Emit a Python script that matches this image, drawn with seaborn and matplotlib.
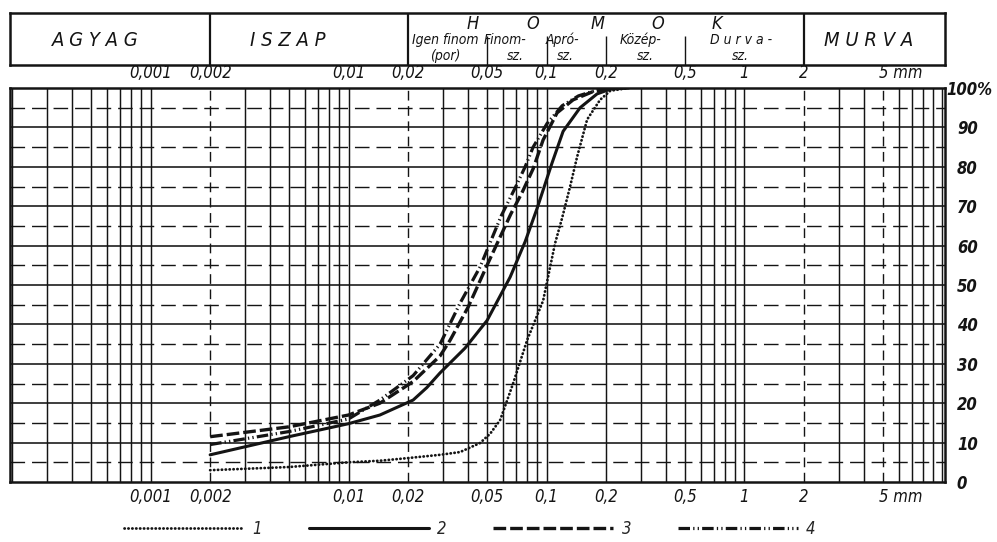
import matplotlib
matplotlib.use("Agg")
import matplotlib.pyplot as plt
import seaborn as sns
from matplotlib import font_manager as fm
from matplotlib.ticker import NullLocator
from matplotlib.transforms import ScaledTranslation

# ---------------- data ----------------
d1 = [0.002, 0.005, 0.01, 0.0144, 0.0193, 0.029, 0.0366, 0.0462, 0.052, 0.0583,
      0.0678, 0.0798, 0.0961, 0.1105, 0.1199, 0.1316, 0.1427, 0.1604, 0.1865, 0.21, 0.26]
p1 = [3.0, 3.8, 5.0, 5.4, 6.0, 6.9, 7.6, 9.9, 12.3, 15.7,
      25.0, 36.0, 46.0, 60.6, 67.0, 75.0, 82.5, 92.0, 97.0, 99.3, 100.0]

d2 = [0.002, 0.005, 0.01, 0.0144, 0.0212, 0.0249, 0.029, 0.0388, 0.0501, 0.0655, 0.078,
      0.0897, 0.1067, 0.1213, 0.1478, 0.18, 0.21, 0.26]
p2 = [6.9, 11.5, 14.8, 17.0, 20.8, 24.0, 27.7, 34.0, 41.0, 52.0, 61.0,
      69.5, 81.0, 89.0, 95.0, 98.5, 99.7, 100.0]

d3 = [0.002, 0.005, 0.01, 0.0144, 0.0212, 0.029, 0.0326, 0.0402, 0.0507, 0.066,
      0.0753, 0.0856, 0.0961, 0.1131, 0.1363, 0.17, 0.21]
p3 = [11.5, 14.0, 17.0, 20.0, 25.5, 32.0, 36.0, 44.4, 55.6, 68.0,
      73.5, 79.5, 86.8, 93.7, 97.0, 99.0, 100.0]

d4 = [0.002, 0.005, 0.01, 0.0144, 0.0212, 0.029, 0.0366, 0.0462, 0.059, 0.07,
      0.078, 0.0856, 0.1007, 0.12, 0.145, 0.18, 0.21]
p4 = [9.5, 12.8, 16.0, 20.8, 27.0, 35.0, 45.4, 54.6, 67.5, 75.0,
      80.0, 85.0, 91.0, 95.5, 98.0, 99.5, 100.0]

series_labels = ["1", "2", "3", "4"]

xticks = [0.001, 0.002, 0.01, 0.02, 0.05, 0.1, 0.2, 0.5, 1, 2, 5]
xticklabels = ["0,001", "0,002", "0,01", "0,02", "0,05", "0,1", "0,2", "0,5", "1", "2", "5 mm"]
yticks = [0, 10, 20, 30, 40, 50, 60, 70, 80, 90, 100]
yticklabels = ["0", "10", "20", "30", "40", "50", "60", "70", "80", "90", "100%"]

header_main = ["A G Y A G", "I S Z A P", "M U R V A"]
homok_letters = ["H", "O", "M", "O", "K"]
sand_sub1 = ["Igen finom", "Finom-", "Apró-", "Közép-", "D u r v a -"]
sand_sub2 = ["(por)", "sz.", "sz.", "sz.", "sz."]
full_dividers = [0.002, 0.02, 2]
part_dividers = [0.05, 0.1, 0.2, 0.5]

# ---------------- style ----------------
sns.set_style("white")
names = {f.name for f in fm.fontManager.ttflist}
COND = "Liberation Sans Narrow" if "Liberation Sans Narrow" in names else "DejaVu Sans"
plt.rcParams["font.family"] = [COND, "DejaVu Sans"]
plt.rcParams["font.stretch"] = "condensed"
INK = "#141414"

XLIM = (0.000195, 10.3)
W, H = 997, 542
fig = plt.figure(figsize=(W / 100, H / 100), dpi=100)
fig.patch.set_facecolor("white")

ax = fig.add_axes([10 / W, 60 / H, 935 / W, 394 / H])
ax.set_xscale("log")
ax.set_xlim(*XLIM)
ax.set_ylim(0, 100)

# grid
dashed_v = {0.002, 0.02, 2, 5}
for k in range(-4, 2):
    for n in range(1, 10):
        v = round(n * 10 ** k, 6)
        if XLIM[0] < v < XLIM[1]:
            if v in dashed_v:
                ax.axvline(v, color=INK, lw=1.0, linestyle=(0, (7, 4)), zorder=1)
            else:
                ax.axvline(v, color=INK, lw=1.05, zorder=1)
for yv in range(10, 100, 10):
    ax.axhline(yv, color=INK, lw=1.15, zorder=1)
for yv in range(5, 100, 10):
    ax.axhline(yv, color=INK, lw=1.0, linestyle=(0, (10.5, 5)), zorder=1)

# curves
styles = [
    dict(lw=2.0, linestyle=(0, (0.1, 1.3)), dash_capstyle="round"),
    dict(lw=2.2, linestyle="-"),
    dict(lw=2.4, linestyle=(0, (3.8, 1.2))),
    dict(lw=2.3, linestyle=(0, (3.6, 1.0, 0.4, 1.0, 0.4, 1.0))),
]
for dd, pp, lab, st in zip([d1, d2, d3, d4], [p1, p2, p3, p4], series_labels, styles):
    sns.lineplot(x=dd, y=pp, ax=ax, color=INK, label=lab, sort=False,
                 estimator=None, zorder=3, **st)

for s in ax.spines.values():
    s.set_linewidth(1.8)
    s.set_color(INK)
    s.set_visible(True)

# ticks
ax.xaxis.set_minor_locator(NullLocator())
ax.set_xticks(xticks)
ax.set_xticklabels(xticklabels)
ax.yaxis.tick_right()
ax.set_yticks(yticks)
ax.set_yticklabels(yticklabels)
ax.tick_params(axis="x", which="both", length=0, top=False, bottom=False,
               labeltop=True, labelbottom=True, pad=4.5, labelsize=12, colors=INK)
ax.tick_params(axis="y", which="both", length=0, left=False, right=False,
               labelleft=False, labelright=True, pad=8.6, labelsize=12, colors=INK)
for t in ax.get_xticklabels(which="both"):
    t.set_fontstyle("italic")
for t in ax.get_yticklabels():
    t.set_fontstyle("italic")
    t.set_fontweight("bold")
    t.set_horizontalalignment("left")

# shift "100%" left and "5 mm" right
tk_y = ax.yaxis.get_major_ticks()[-1]
tk_y.label2.set_transform(tk_y.label2.get_transform() + ScaledTranslation(-0.11, 0, fig.dpi_scale_trans))
tk_x = ax.xaxis.get_major_ticks()[-1]
for lb in (tk_x.label1, tk_x.label2):
    lb.set_transform(lb.get_transform() + ScaledTranslation(0.18, 0, fig.dpi_scale_trans))

# legend
handles, labels = ax.get_legend_handles_labels()
if ax.get_legend() is not None:
    ax.get_legend().remove()
fig.legend(handles, labels, loc="center", bbox_to_anchor=(470 / W, 1 - 529 / H),
           ncol=4, frameon=False, handlelength=7.2, handletextpad=0.5,
           columnspacing=2.8, prop=dict(size=12, style="italic"))

# ---------------- header ----------------
hax = fig.add_axes([10 / W, (H - 65) / H, 935 / W, 52 / H])
hax.set_xscale("log")
hax.set_xlim(*XLIM)
hax.set_ylim(0, 1)
hax.xaxis.set_major_locator(NullLocator())
hax.xaxis.set_minor_locator(NullLocator())
hax.yaxis.set_major_locator(NullLocator())
hax.set_facecolor("none")
for s in hax.spines.values():
    s.set_linewidth(1.8)
    s.set_color(INK)
    s.set_visible(True)
for v in full_dividers:
    hax.axvline(v, color=INK, lw=1.6)
hax.vlines(part_dividers, 0, 0.56, color=INK, lw=1.0)

big = dict(transform=hax.transAxes, ha="center", va="center", fontsize=14.5,
           fontstyle="italic", color=INK)
for xf, s in zip([0.0909, 0.297, 0.918], header_main):
    hax.text(xf, 0.48, s, **big)
let = dict(big, fontsize=13)
for xf, s in zip([0.495, 0.559, 0.628, 0.693, 0.756], homok_letters):
    hax.text(xf, 0.79, s, **let)
small = dict(transform=hax.transAxes, ha="center", va="center", fontsize=10,
             fontstyle="italic", color=INK)
for xf, s in zip([0.465, 0.529, 0.591, 0.674, 0.782], sand_sub1):
    hax.text(xf, 0.49, s, **small)
for xf, s in zip([0.465, 0.540, 0.594, 0.679, 0.781], sand_sub2):
    hax.text(xf, 0.17, s, **small)

fig.savefig("out.png", dpi=100, facecolor="white")
